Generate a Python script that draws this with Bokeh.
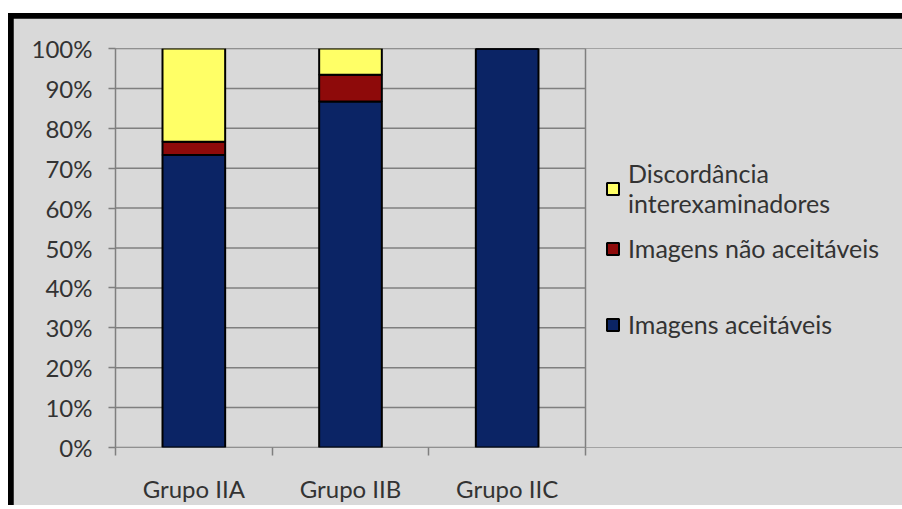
from bokeh.plotting import figure
from bokeh.layouts import column
from bokeh.models import (FixedTicker, NumeralTickFormatter, LinearAxis, Legend,
                          LegendItem, ColumnDataSource, Range1d)
from bokeh.embed import file_html
from bokeh.resources import INLINE

# ---- data ----
groups = ["Grupo IIA", "Grupo IIB", "Grupo IIC"]
aceitaveis = [0.733, 0.867, 1.0]
nao_aceitaveis = [0.033, 0.067, 0.0]
discordancia = [0.234, 0.066, 0.0]
series_labels = ["Imagens aceitáveis", "Imagens não aceitáveis",
                 "Discordância\ninterexaminadores"]
y_ticks = [0, 0.1, 0.2, 0.3, 0.4, 0.5, 0.6, 0.7, 0.8, 0.9, 1.0]

colors = ["#0b2465", "#8e0a0a", "#ffff66"]
FONT = "Lato"
FS = "24px"
LFS = "25px"
TXT = "#333333"
GRID = "#7f7f7f"

n = len(groups)
xpos = [i + 0.5 for i in range(n)]
bounds = list(range(n + 1))
src = ColumnDataSource(dict(x=xpos, a=aceitaveis, n=nao_aceitaveis, d=discordancia))

W, H = 889, 487
LEFT, TOP, BOTTOM = 102, 30, 58
PLOT_W = 470  # pixel width of the category area
x_end = n * (W - LEFT) / PLOT_W

p = figure(width=W, height=H, output_backend="svg", toolbar_location=None,
           x_range=Range1d(0, x_end), y_range=Range1d(0, 1),
           min_border_left=LEFT, min_border_right=0, min_border_top=TOP,
           min_border_bottom=BOTTOM, x_axis_type=None, y_axis_type=None,
           margin=(5, 0, 0, 5))
p.background_fill_color = "#d9d9d9"
p.border_fill_color = "#d9d9d9"
p.outline_line_color = None

# grid lines limited to the category area, and right edge line
p.segment(x0=[0] * len(y_ticks), x1=[n] * len(y_ticks), y0=y_ticks, y1=y_ticks,
          line_color=GRID, line_width=1.5)
p.segment(x0=[n], x1=[n], y0=[y_ticks[0]], y1=[y_ticks[-1]],
          line_color=GRID, line_width=1.5)

rs = p.vbar_stack(["a", "n", "d"], x="x", width=0.4, source=src,
                  fill_color=colors, line_color="black", line_width=2)

# y axis
yax = LinearAxis(ticker=FixedTicker(ticks=y_ticks),
                 formatter=NumeralTickFormatter(format="0%"))
yax.axis_line_color = GRID
yax.axis_line_width = 1.5
yax.major_tick_line_color = GRID
yax.major_tick_line_width = 1.5
yax.major_tick_out = 7
yax.major_tick_in = 0
yax.minor_tick_line_color = None
yax.major_label_standoff = 16
yax.major_label_text_font = FONT
yax.major_label_text_font_size = FS
yax.major_label_text_color = TXT
p.add_layout(yax, "left")

# x axis: labels at centres, tick marks at category boundaries
xax = LinearAxis(ticker=FixedTicker(ticks=xpos, minor_ticks=bounds),
                 major_label_overrides={x: g for x, g in zip(xpos, groups)})
xax.axis_line_color = None
xax.major_tick_line_color = None
xax.minor_tick_line_color = GRID
xax.minor_tick_line_width = 1.5
xax.minor_tick_out = 8
xax.minor_tick_in = 0
xax.major_label_standoff = 18
xax.major_label_text_font = FONT
xax.major_label_text_font_size = FS
xax.major_label_text_color = TXT
p.add_layout(xax, "below")

p.xgrid.visible = False
p.ygrid.visible = False


def style_legend(lg):
    lg.background_fill_alpha = 0
    lg.border_line_color = None
    lg.label_text_font = FONT
    lg.label_text_font_size = LFS
    lg.label_text_color = TXT
    lg.label_text_line_height = 1.0
    lg.glyph_width = 15
    lg.glyph_height = 15
    lg.label_standoff = 8
    lg.padding = 0
    lg.margin = 0
    lg.label_height = 24


leg1 = Legend(items=[LegendItem(label=series_labels[2], renderers=[rs[2]]),
                     LegendItem(label=series_labels[1], renderers=[rs[1]])],
              location=(490, 184), spacing=15)
style_legend(leg1)
leg2 = Legend(items=[LegendItem(label=series_labels[0], renderers=[rs[0]])],
              location=(490, 108))
style_legend(leg2)
p.add_layout(leg1, "center")
p.add_layout(leg2, "center")

page = column(p, margin=(13, 0, 0, 8), styles={"background-color": "black"})

open("out.html", "w").write(file_html(page, INLINE))
